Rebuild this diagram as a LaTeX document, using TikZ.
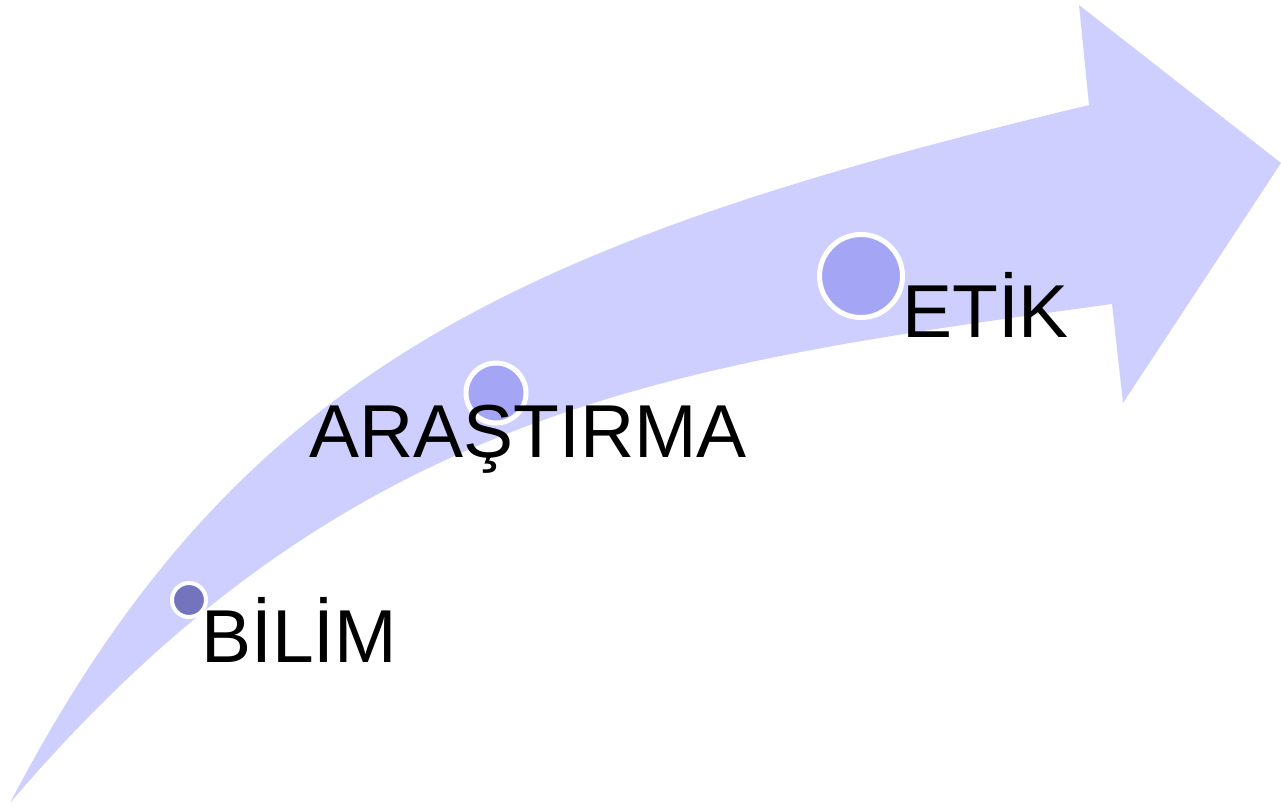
\documentclass[tikz,border=0pt]{standalone}
\usepackage{fontspec}
\setmainfont{Liberation Sans}
\definecolor{bandc}{HTML}{CFCFFF}
\definecolor{dotlight}{HTML}{A5A5F5}
\definecolor{dotdark}{HTML}{7373BE}
\begin{document}
\begin{tikzpicture}[x=1pt,y=-1pt,
  dot/.style={circle,draw=white,inner sep=0pt},
  lbl/.style={anchor=base west,inner sep=0pt,font=\fontsize{75}{80}\selectfont}]
\useasboundingbox (0,0) rectangle (1281,806);
\fill[bandc] (10,803) .. controls (235,372) and (511,244) .. (1089,105)
  -- (1079,5) -- (1281,163) -- (1123,403) -- (1112,304)
  .. controls (667,365) and (346,409) .. (10,803) -- cycle;
\node[dot,fill=dotdark,line width=4pt,minimum size=34pt] (c1) at (189,600) {};
\node[dot,fill=dotlight,line width=5pt,minimum size=60pt] (c2) at (496,393) {};
\node[dot,fill=dotlight,line width=5pt,minimum size=83pt] (c3) at (861,276) {};
\node[lbl] (t1) at (201,662) {BİLİM};
\node[lbl] (t2) at (309,457) {ARAŞTIRMA};
\node[lbl] (t3) at (902,337) {ETİK};
\end{tikzpicture}
\end{document}
